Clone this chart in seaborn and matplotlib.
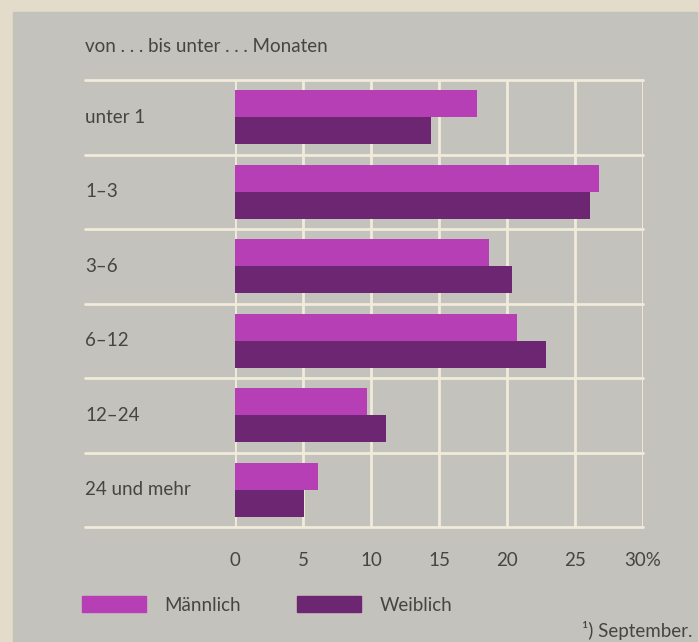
import matplotlib
matplotlib.use("Agg")
import matplotlib.pyplot as plt
import matplotlib.patches as mpatches
import pandas as pd
import seaborn as sns

# Dauer der Arbeitslosigkeit, Anteil in %
dauer = ["unter 1", "1\u20133", "3\u20136", "6\u201312", "12\u201324", "24 und mehr"]
maennlich = [17.8, 26.8, 18.7, 20.7, 9.7, 6.1]
weiblich = [14.4, 26.1, 20.4, 22.9, 11.1, 5.1]
x_ticks = [0, 5, 10, 15, 20, 25, 30]
x_labels = ["0", "5", "10", "15", "20", "25", "30%"]

PAPER = "#e3dccb"
PANEL = "#c4c2bc"
GRID = "#f1ebda"
TEXT = "#464542"
C_M = "#b63fb6"
C_W = "#6d2671"
FS = 13.5

sns.set_style("white")
plt.rcParams["font.family"] = ["Lato", "DejaVu Sans"]

df = pd.DataFrame({
    "Dauer": dauer * 2,
    "Anteil": maennlich + weiblich,
    "Geschlecht": ["Männlich"] * len(dauer) + ["Weiblich"] * len(dauer),
})

W, H = 699, 642
fig = plt.figure(figsize=(W / 100, H / 100), dpi=100, facecolor=PAPER)
fig.patches.append(mpatches.Rectangle((13 / W, 0), (697 - 13) / W, 1 - 12 / H,
                                      transform=fig.transFigure, color=PANEL, zorder=-5))

ax = fig.add_axes([235 / W, 1 - 527 / H, 408 / W, 447 / H])
ax.set_facecolor(PANEL)
sns.barplot(data=df, x="Anteil", y="Dauer", hue="Geschlecht", orient="h",
            palette=[C_M, C_W], saturation=1, width=0.72, legend=False,
            linewidth=0, ax=ax)
ax.set_xlim(0, 30)
ax.set_ylim(len(dauer) - 0.5, -0.5)
for s in ax.spines.values():
    s.set_visible(False)

# vertical grid lines
for t in x_ticks:
    ax.axvline(t, color=GRID, lw=2.0, zorder=0.5)

# horizontal row separators reach into the label column
left_ext = -(235 - 85) / 408
ytrans = ax.get_yaxis_transform()
for k in range(len(dauer) + 1):
    ax.plot([left_ext, 1], [k - 0.5, k - 0.5], transform=ytrans,
            color=GRID, lw=2.0, clip_on=False, zorder=0.5)

ax.set_yticks([])
ax.set_ylabel("")
ax.set_xlabel("")
ax.set_xticks(x_ticks)
ax.set_xticklabels(x_labels, fontsize=FS, color=TEXT)
ax.tick_params(axis="x", length=0, pad=18)

for i, lab in enumerate(dauer):
    ax.text(left_ext, i, lab, transform=ytrans, ha="left", va="center",
            fontsize=FS, color=TEXT)

fig.text(85 / W, 1 - 47 / H, "von . . . bis unter . . . Monaten",
         ha="left", va="center", fontsize=FS, color=TEXT)

handles = [mpatches.Patch(color=C_M, label="Männlich"),
           mpatches.Patch(color=C_W, label="Weiblich")]
fig.legend(handles=handles, loc="upper left", bbox_to_anchor=(82 / W, 1 - 596 / H),
           ncol=2, frameon=False, fontsize=FS, labelcolor=TEXT,
           handlelength=3.4, handleheight=0.95, handletextpad=1.0,
           columnspacing=3.0, borderpad=0, borderaxespad=0)

fig.text(692 / W, 1 - 631 / H, "\u00b9) September.", ha="right", va="center",
         fontsize=FS, color=TEXT)

fig.savefig("out.png", dpi=100, facecolor=PAPER)
